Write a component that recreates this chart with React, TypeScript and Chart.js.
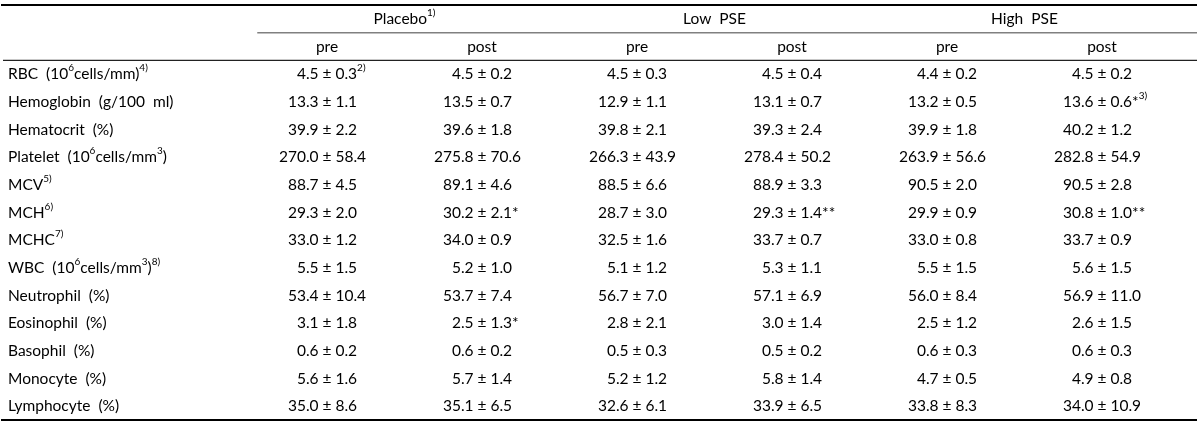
import React, { useEffect, useRef } from "react";
import { Chart, registerables } from "chart.js";

Chart.register(...registerables);

const groupLabels = ["Placebo^{1)}", "Low  PSE", "High  PSE"];
const phaseLabels = ["pre", "post", "pre", "post", "pre", "post"];
const rowLabels = [
  "RBC  (10^{6}cells/mm)^{4)}",
  "Hemoglobin  (g/100  ml)",
  "Hematocrit  (%)",
  "Platelet  (10^{6}cells/mm^{3})",
  "MCV^{5)}",
  "MCH^{6)}",
  "MCHC^{7)}",
  "WBC  (10^{6}cells/mm^{3})^{8)}",
  "Neutrophil  (%)",
  "Eosinophil  (%)",
  "Basophil  (%)",
  "Monocyte  (%)",
  "Lymphocyte  (%)",
];

const placeboPreMean = [4.5, 13.3, 39.9, 270.0, 88.7, 29.3, 33.0, 5.5, 53.4, 3.1, 0.6, 5.6, 35.0];
const placeboPreSD = [0.3, 1.1, 2.2, 58.4, 4.5, 2.0, 1.2, 1.5, 10.4, 1.8, 0.2, 1.6, 8.6];
const placeboPreMark = ["^{2)}", "", "", "", "", "", "", "", "", "", "", "", ""];
const placeboPostMean = [4.5, 13.5, 39.6, 275.8, 89.1, 30.2, 34.0, 5.2, 53.7, 2.5, 0.6, 5.7, 35.1];
const placeboPostSD = [0.2, 0.7, 1.8, 70.6, 4.6, 2.1, 0.9, 1.0, 7.4, 1.3, 0.2, 1.4, 6.5];
const placeboPostMark = ["", "", "", "", "", "*", "", "", "", "*", "", "", ""];
const lowPreMean = [4.5, 12.9, 39.8, 266.3, 88.5, 28.7, 32.5, 5.1, 56.7, 2.8, 0.5, 5.2, 32.6];
const lowPreSD = [0.3, 1.1, 2.1, 43.9, 6.6, 3.0, 1.6, 1.2, 7.0, 2.1, 0.3, 1.2, 6.1];
const lowPreMark = ["", "", "", "", "", "", "", "", "", "", "", "", ""];
const lowPostMean = [4.5, 13.1, 39.3, 278.4, 88.9, 29.3, 33.7, 5.3, 57.1, 3.0, 0.5, 5.8, 33.9];
const lowPostSD = [0.4, 0.7, 2.4, 50.2, 3.3, 1.4, 0.7, 1.1, 6.9, 1.4, 0.2, 1.4, 6.5];
const lowPostMark = ["", "", "", "", "", "**", "", "", "", "", "", "", ""];
const highPreMean = [4.4, 13.2, 39.9, 263.9, 90.5, 29.9, 33.0, 5.5, 56.0, 2.5, 0.6, 4.7, 33.8];
const highPreSD = [0.2, 0.5, 1.8, 56.6, 2.0, 0.9, 0.8, 1.5, 8.4, 1.2, 0.3, 0.5, 8.3];
const highPreMark = ["", "", "", "", "", "", "", "", "", "", "", "", ""];
const highPostMean = [4.5, 13.6, 40.2, 282.8, 90.5, 30.8, 33.7, 5.6, 56.9, 2.6, 0.6, 4.9, 34.0];
const highPostSD = [0.2, 0.6, 1.2, 54.9, 2.8, 1.0, 0.9, 1.5, 11.0, 1.5, 0.3, 0.8, 10.9];
const highPostMark = ["", "*^{3)}", "", "", "", "**", "", "", "", "", "", "", ""];

const columns = [
  { mean: placeboPreMean, sd: placeboPreSD, mark: placeboPreMark },
  { mean: placeboPostMean, sd: placeboPostSD, mark: placeboPostMark },
  { mean: lowPreMean, sd: lowPreSD, mark: lowPreMark },
  { mean: lowPostMean, sd: lowPostSD, mark: lowPostMark },
  { mean: highPreMean, sd: highPreSD, mark: highPreMark },
  { mean: highPostMean, sd: highPostSD, mark: highPostMark },
];

const HEADER_ROWS = 2;
const TOTAL_ROWS = HEADER_ROWS + rowLabels.length;
// x scale in column units: data column i sits at value i+1
const X_MIN = 1 - 327 / 155;
const X_MAX = X_MIN + 1200 / 155;

const FONT_FAMILY = "Lato, 'Open Sans', sans-serif";
const FONT_SIZE = 15.5;
const SUP_SIZE = 10;
const TEXT_COLOR = "#000";

type Seg = { text: string; sup: boolean };
function parse(s: string): Seg[] {
  const out: Seg[] = [];
  const re = /\^\{([^}]*)\}/g;
  let last = 0;
  let m: RegExpExecArray | null;
  while ((m = re.exec(s))) {
    if (m.index > last) out.push({ text: s.slice(last, m.index), sup: false });
    out.push({ text: m[1], sup: true });
    last = m.index + m[0].length;
  }
  if (last < s.length) out.push({ text: s.slice(last), sup: false });
  return out;
}
function setFont(ctx: CanvasRenderingContext2D, sup: boolean) {
  ctx.font = `${sup ? SUP_SIZE : FONT_SIZE}px ${FONT_FAMILY}`;
}
function segWidth(ctx: CanvasRenderingContext2D, segs: Seg[]) {
  let w = 0;
  for (const s of segs) {
    setFont(ctx, s.sup);
    w += ctx.measureText(s.text).width;
  }
  return w;
}
function drawRich(ctx: CanvasRenderingContext2D, segs: Seg[], x: number, y: number) {
  let cx = x;
  for (const s of segs) {
    setFont(ctx, s.sup);
    ctx.fillText(s.text, cx, s.sup ? y - 6 : y);
    cx += ctx.measureText(s.text).width;
  }
}

const tablePlugin = {
  id: "tablePlugin",
  afterDraw(chart: any) {
    const ctx: CanvasRenderingContext2D = chart.ctx;
    const xs = chart.scales.x;
    const ys = chart.scales.y;
    const area = chart.chartArea;
    const rowY = (r: number) => ys.getPixelForValue(r + 0.5);
    ctx.save();
    ctx.fillStyle = TEXT_COLOR;
    ctx.textBaseline = "middle";
    ctx.textAlign = "left";

    const hline = (y: number, x0: number, x1: number, w: number, c: string) => {
      ctx.beginPath();
      ctx.strokeStyle = c;
      ctx.lineWidth = w;
      ctx.moveTo(x0, y);
      ctx.lineTo(x1, y);
      ctx.stroke();
    };
    hline(ys.getPixelForValue(0), area.left + 1, area.right - 3, 2, "#000");
    hline(ys.getPixelForValue(1), xs.getPixelForValue(0.55), area.right - 3, 1.5, "#808080");
    hline(ys.getPixelForValue(HEADER_ROWS), area.left + 3, area.right - 3, 1.2, "#222");
    hline(ys.getPixelForValue(TOTAL_ROWS), area.left + 1, area.right - 3, 2, "#000");

    groupLabels.forEach((g, i) => {
      const segs = parse(g);
      const cx = xs.getPixelForValue(2 * i + 1.5);
      drawRich(ctx, segs, cx - segWidth(ctx, segs) / 2, rowY(0));
    });
    phaseLabels.forEach((p, i) => {
      const segs = parse(p);
      const cx = xs.getPixelForValue(i + 1);
      drawRich(ctx, segs, cx - segWidth(ctx, segs) / 2, rowY(1));
    });
    rowLabels.forEach((l, r) => {
      drawRich(ctx, parse(l), area.left + 8, rowY(r + HEADER_ROWS));
    });
    columns.forEach((col, c) => {
      const cx = xs.getPixelForValue(c + 1);
      col.mean.forEach((m, r) => {
        const before = `${m.toFixed(1)} `;
        const text = `${before}± ${col.sd[r].toFixed(1)}${col.mark[r]}`;
        setFont(ctx, false);
        const off = ctx.measureText(before).width + ctx.measureText("±").width / 2;
        drawRich(ctx, parse(text), cx - off, rowY(r + HEADER_ROWS));
      });
    });
    ctx.restore();
  },
};

const anchors = columns.flatMap((col, c) =>
  col.mean.map((_, r) => ({ x: c + 1, y: r + HEADER_ROWS + 0.5 }))
);

export default function App() {
  const ref = useRef<HTMLCanvasElement>(null);
  useEffect(() => {
    document.body.style.margin = "0";
    const chart = new Chart(ref.current!, {
      type: "scatter",
      data: { datasets: [{ data: anchors, pointRadius: 0, pointHoverRadius: 0 }] },
      options: {
        animation: false,
        responsive: false,
        events: [],
        layout: { padding: { top: 5, bottom: 5, left: 0, right: 0 } },
        plugins: { legend: { display: false }, tooltip: { enabled: false } },
        scales: {
          x: { type: "linear", display: false, min: X_MIN, max: X_MAX },
          y: { type: "linear", display: false, min: 0, max: TOTAL_ROWS, reverse: true },
        },
      },
      plugins: [tablePlugin],
    });
    return () => chart.destroy();
  }, []);
  return (
    <div style={{ width: 1200, height: 425, background: "#fff" }}>
      <canvas ref={ref} width={1200} height={425} style={{ display: "block" }} />
    </div>
  );
}
